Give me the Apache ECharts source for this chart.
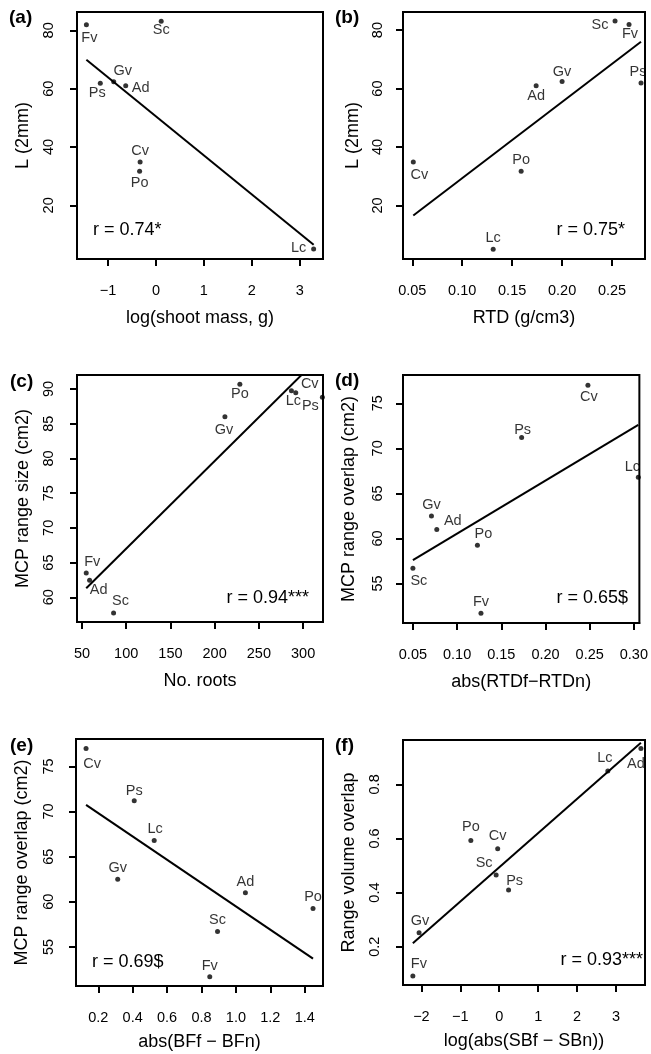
<!DOCTYPE html>
<html><head><meta charset="utf-8">
<script src="https://cdn.jsdelivr.net/npm/echarts@6/dist/echarts.min.js"></script>
<style>html,body{margin:0;padding:0;background:#fff}#c{width:651px;height:1054px}</style>
</head><body><div id="c"></div>
<script>
// ---------- data ----------
const species = ['Ad','Cv','Fv','Gv','Lc','Po','Ps','Sc'];
const L2mm            = [61.0, 34.9, 81.9, 62.4, 5.0, 31.7, 61.9, 83.1];
const logShootMass    = [-0.63, -0.33, -1.45, -0.88, 3.29, -0.34, -1.16, 0.11];
const rtd             = [0.174, 0.051, 0.267, 0.200, 0.131, 0.159, 0.279, 0.253];
const noRoots         = [58.6, 291.7, 54.8, 211.6, 286.8, 228.5, 321.8, 85.7];
const mcpRangeSize    = [62.45, 89.47, 63.5, 86.0, 89.76, 90.68, 88.8, 57.74];
const absRtdDiff      = [0.077, 0.248, 0.127, 0.071, 0.305, 0.123, 0.173, 0.050];
const mcpOverlap      = [61.0, 77.0, 51.7, 62.5, 66.8, 59.26, 71.2, 56.7];
const absBfDiff       = [1.055, 0.129, 0.848, 0.313, 0.525, 1.448, 0.409, 0.893];
const logAbsSbDiff    = [3.64, -0.04, -2.22, -2.06, 2.79, -0.73, 0.24, -0.08];
const rangeVolOverlap = [0.933, 0.562, 0.092, 0.252, 0.849, 0.593, 0.410, 0.465];

const fitA = [[-1.45, 69.9], [3.29, 6.5]];
const fitB = [[0.051, 16.6], [0.279, 76.0]];
const fitC = [[54.8, 61.3], [321.8, 95.0]];
const fitD = [[0.050, 57.6], [0.305, 72.6]];
const fitE = [[0.129, 70.74], [1.448, 53.7]];
const fitF = [[-2.22, 0.2126], [3.64, 0.954]];

const ticksAx = ['-1','0','1','2','3'];
const ticksLy = ['20','40','60','80'];
const ticksBx = ['0.05','0.10','0.15','0.20','0.25'];
const ticksCx = ['50','100','150','200','250','300'];
const ticksCy = ['60','65','70','75','80','85','90'];
const ticksDx = ['0.05','0.10','0.15','0.20','0.25','0.30'];
const ticksOy = ['55','60','65','70','75'];
const ticksEx = ['0.2','0.4','0.6','0.8','1.0','1.2','1.4'];
const ticksFx = ['-2','-1','0','1','2','3'];
const ticksFy = ['0.2','0.4','0.6','0.8'];

const rTexts = ['r = 0.74*','r = 0.75*','r = 0.94***','r = 0.65$','r = 0.69$','r = 0.93***'];
const panelLetters = ['(a)','(b)','(c)','(d)','(e)','(f)'];

const FONT = "'Liberation Sans', Arial, Helvetica, sans-serif";
const labelOffsets = {
  a:{Fv:[3,13],Sc:[0,9],Gv:[9,-11],Ps:[-3,10],Ad:[15,2],Cv:[0,-11],Po:[0,12],Lc:[-15,-1]},
  b:{Sc:[-15,4],Fv:[1,9],Ps:[-3,-11],Gv:[0,-10],Ad:[0,10],Po:[0,-11],Cv:[6,13],Lc:[0,-11]},
  c:{Po:[0,10],Gv:[-1,13],Cv:[14,-9],Lc:[2,10],Ps:[-12,9],Fv:[6,-11],Ad:[9,10],Sc:[7,-12]},
  d:{Cv:[1,12],Ps:[1,-8],Lc:[-6,-10],Gv:[0,-11],Ad:[16,-8],Po:[6,-11],Sc:[6,13],Fv:[0,-11]},
  e:{Cv:[6,16],Ps:[0,-10],Lc:[1,-11],Gv:[0,-11],Ad:[0,-11],Po:[0,-11],Sc:[0,-12],Fv:[0,-11]},
  f:{Ad:[-5,16],Lc:[-3,-13],Po:[0,-13],Cv:[0,-13],Sc:[-12,-12],Ps:[6,-9],Gv:[1,-12],Fv:[6,-12]}
};

const panels = [
  {key:'a', grid:{left:77,top:12,width:246,height:247}, x:logShootMass, y:L2mm, fit:fitA,
   xr:[-1.646,3.485], yr:[1.6,86.3], xt:ticksAx, yt:ticksLy, xn:'log(shoot mass, g)', yn:'L (2mm)', xg:50, yg:45, ym:20.5,
   r:{x:93,y:230,align:'left'}, L:{x:9,y:18}},
  {key:'b', grid:{left:403,top:12,width:242,height:247}, x:rtd, y:L2mm, fit:fitB,
   xr:[0.0407,0.283], yr:[1.7,86.2], xt:ticksBx, yt:ticksLy, xn:'RTD (g/cm3)', yn:'L (2mm)', xg:50, yg:41, ym:18,
   r:{x:625,y:230,align:'right'}, L:{x:335,y:18}},
  {key:'c', grid:{left:77,top:375,width:246,height:247}, x:noRoots, y:mcpRangeSize, fit:fitC,
   xr:[44.36,322.5], yr:[56.44,92.02], xt:ticksCx, yt:ticksCy, xn:'No. roots', yn:'MCP range size (cm2)', xg:50, yg:45, ym:20.5,
   r:{x:309,y:598,align:'right'}, L:{x:10,y:382}},
  {key:'d', grid:{left:403,top:375,width:239,height:248}, x:absRtdDiff, y:mcpOverlap, fit:fitD,
   xr:[0.0388,0.3062], yr:[50.62,78.14], xt:ticksDx, yt:ticksOy, xn:'abs(RTDf\u2212RTDn)', yn:'MCP range overlap (cm2)', xg:50, yg:45, ym:18,
   r:{x:628,y:598,align:'right'}, L:{x:335,y:381}},
  {key:'e', grid:{left:76,top:739,width:247,height:247}, x:absBfDiff, y:mcpOverlap, fit:fitE,
   xr:[0.0706,1.506], yr:[50.67,78.04], xt:ticksEx, yt:ticksOy, xn:'abs(BFf \u2212 BFn)', yn:'MCP range overlap (cm2)', xg:47, yg:45, ym:20,
   r:{x:92,y:962,align:'left'}, L:{x:10,y:746}},
  {key:'f', grid:{left:403,top:740,width:242,height:245}, x:logAbsSbDiff, y:rangeVolOverlap, fit:fitF,
   xr:[-2.473,3.745], yr:[0.0585,0.964], xt:ticksFx, yt:ticksFy, xn:'log(abs(SBf \u2212 SBn))', yn:'Range volume overlap', xg:47, yg:45, ym:20.5,
   r:{x:643,y:960,align:'right'}, L:{x:335,y:746}}
];

function axisCfg(i, range, ticks, name, gap, isY, margin) {
  const vals = ticks.map(Number);
  return {
    gridIndex:i, type:'value', min:range[0], max:range[1],
    position: isY ? 'left' : 'bottom',
    name:name, nameLocation:'middle', nameGap:gap,
    nameTextStyle:{fontSize:18, color:'#000', fontFamily:FONT},
    axisLine:{show:true, onZero:false, lineStyle:{color:'#000', width:2}},
    axisTick:{show:true, inside:false, length:7, lineStyle:{color:'#000', width:2}, customValues:vals},
    axisLabel:{show:true, customValues:vals, margin:margin, rotate: isY ? 90 : 0,
      fontSize:14.5, color:'#000', fontFamily:FONT,
      formatter:function(v){
        let best = ticks[0], bd = Infinity;
        ticks.forEach(function(t){ const d = Math.abs(Number(t)-v); if (d<bd){bd=d;best=t;} });
        return best.replace('-', '\u2212');
      }},
    splitLine:{show:false}
  };
}

const option = {animation:false, grid:[], xAxis:[], yAxis:[], series:[], title:[]};
panels.forEach(function(p, i){
  option.grid.push(Object.assign({show:true, borderColor:'#000', borderWidth:2}, p.grid));
  option.xAxis.push(axisCfg(i, p.xr, p.xt, p.xn, p.xg, false, 24));
  option.yAxis.push(axisCfg(i, p.yr, p.yt, p.yn, p.yg, true, p.ym));
  option.series.push({
    type:'line', xAxisIndex:i, yAxisIndex:i, data:p.fit, symbol:'none',
    lineStyle:{color:'#000', width:2}
  });
  option.series.push({
    type:'scatter', xAxisIndex:i, yAxisIndex:i, symbolSize:5,
    itemStyle:{color:'#000'},
    label:{show:true, position:'inside', formatter:'{b}', fontSize:14.5, color:'#000', fontFamily:FONT},
    data: species.map(function(s,k){
      return {name:s, value:[p.x[k], p.y[k]], label:{offset:labelOffsets[p.key][s]}};
    })
  });
  const rt = {text:rTexts[i], top:p.r.y-10, padding:0, itemGap:0,
    textStyle:{fontSize:18, fontWeight:'normal', color:'#000', fontFamily:FONT, lineHeight:20}};
  if (p.r.align === 'left') rt.left = p.r.x; else rt.right = 651 - p.r.x;
  option.title.push(rt);
  option.title.push({text:panelLetters[i], left:p.L.x, top:p.L.y-11, padding:0,
    textStyle:{fontSize:19, fontWeight:'bold', color:'#000', fontFamily:FONT, lineHeight:22}});
});

const chart = echarts.init(document.getElementById('c'), null, {renderer:'canvas'});
chart.setOption(option);
</script>
</body></html>
